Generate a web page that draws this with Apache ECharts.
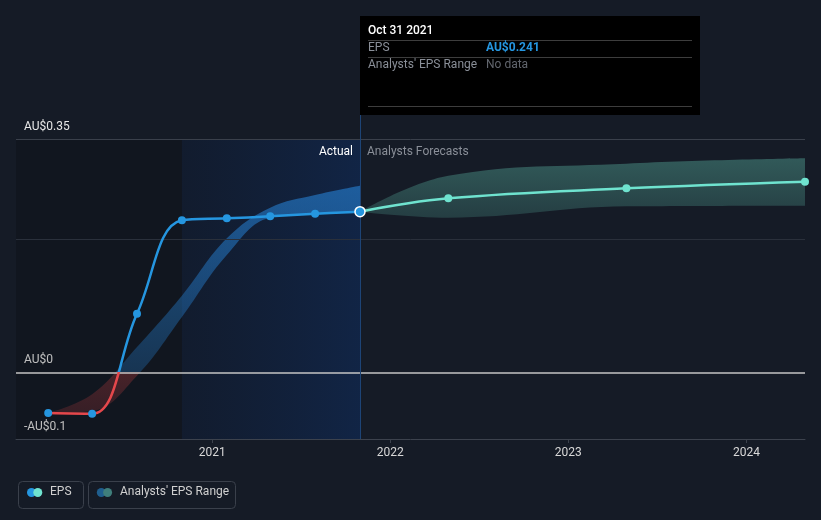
<!DOCTYPE html>
<html><head><meta charset="utf-8">
<script src="https://cdn.jsdelivr.net/npm/echarts@6/dist/echarts.min.js"></script>
<style>html,body{margin:0;padding:0;background:#151b26;}#c{width:821px;height:520px;}</style>
</head><body><div id="c"></div>
<script>
// ---- data ----
const actualDates = ['2020-01-31','2020-04-30','2020-07-31','2020-10-31','2021-01-31','2021-04-30','2021-07-31','2021-10-31'];
const actualEps = [-0.061, -0.062, 0.088, 0.228, 0.231, 0.234, 0.238, 0.241];
const pastRangeLow = [-0.061, -0.058, -0.005, 0.083, 0.176, 0.232, 0.237, 0.241];
const pastRangeHigh = [-0.061, -0.033, 0.038, 0.115, 0.201, 0.247, 0.266, 0.280];
const forecastDates = ['2021-10-31','2022-04-30','2023-04-30','2024-04-30'];
const forecastEps = [0.241, 0.261, 0.276, 0.286];
const forecastLow = [0.241, 0.232, 0.249, 0.250];
const forecastHigh = [0.241, 0.295, 0.313, 0.321];
const xMin = '2019-11-26';
const xMax = '2024-04-30';
const lastYearStart = '2020-10-31';
const todayDate = '2021-10-31';
const xTickYears = ['2021-01-01','2022-01-01','2023-01-01','2024-01-01'];
const xTickLabels = ['2021','2022','2023','2024'];
const yTicks = [-0.1, 0, 0.35];
const yTickLabels = ['-AU$0.1', 'AU$0', 'AU$0.35'];
const yGrid = [0.35, 0.2];
const tooltipDate = 'Oct 31 2021';

// ---- chart ----
const BLUE = '#2596e0', RED = '#e5474b', TEAL = '#6fe3cf';
const FONT = 'Roboto, "Noto Sans", sans-serif';
const chart = echarts.init(document.getElementById('c'));
const T = d => +echarts.time.parse(d);
const pair = (d, v) => d.map((x, i) => [T(x), v[i]]);
// band rows are [value, time] so that stacking happens on the value (y) dimension
const rev = (d, v) => d.map((x, i) => [v[i], T(x)]);
const pastDiff = pastRangeHigh.map((h, i) => +(h - pastRangeLow[i]).toFixed(4));
const fcDiff = forecastHigh.map((h, i) => +(h - forecastLow[i]).toFixed(4));
const xTickValues = xTickYears.map(T);

const actualData = pair(actualDates, actualEps).map((p, i, arr) => i === arr.length - 1
  ? { value: p, symbolSize: 10, itemStyle: { color: BLUE, borderColor: '#ffffff', borderWidth: 1.5 } }
  : p);
const fcData = pair(forecastDates, forecastEps).map((p, i) => i === 0 ? { value: p, symbol: 'none' } : p);

const bandBase = { type: 'line', encode: { x: 1, y: 0 }, smooth: 0.4, symbol: 'none',
  lineStyle: { opacity: 0, width: 0 }, silent: true, z: 2, stackStrategy: 'all' };

const option = {
  backgroundColor: '#151b26',
  animation: false,
  textStyle: { fontFamily: FONT },
  grid: { left: 16, right: 16, top: 139, bottom: 81 },
  xAxis: {
    type: 'value', min: T(xMin), max: T(xMax), scale: true,
    axisLine: { onZero: false, lineStyle: { color: '#3c424d', width: 1 } },
    axisTick: { show: true, length: 4, lineStyle: { color: '#3c424d' }, customValues: xTickValues },
    axisLabel: { color: '#d8d8d8', fontSize: 12, margin: 8, customValues: xTickValues,
      formatter: v => { const i = xTickValues.indexOf(v); return i >= 0 ? xTickLabels[i] : ''; } },
    splitLine: { show: false }
  },
  yAxis: {
    type: 'value', min: -0.1, max: 0.35, interval: 0.05,
    axisLine: { show: false }, axisTick: { show: false }, splitLine: { show: false },
    axisLabel: {
      inside: true, customValues: yTicks, color: '#e8e8e8', fontSize: 12, margin: 8,
      verticalAlign: 'bottom', lineHeight: 14, padding: [0, 0, 5, 0],
      formatter: v => { const i = yTicks.findIndex(t => Math.abs(t - v) < 1e-9); return i >= 0 ? yTickLabels[i] : ''; }
    }
  },
  series: [
    { id: 'areas', type: 'line', data: pair(actualDates, actualEps), symbol: 'none', lineStyle: { opacity: 0 }, silent: true, z: 1,
      markArea: { silent: true, data: [
        [{ xAxis: T(xMin), itemStyle: { color: 'rgba(0,0,0,0.18)' } }, { xAxis: T(lastYearStart) }],
        [{ name: 'Actual', xAxis: T(lastYearStart),
           itemStyle: { color: new echarts.graphic.LinearGradient(0, 0, 1, 0, [
             { offset: 0, color: 'rgba(8,30,70,0.25)' }, { offset: 1, color: 'rgba(10,55,130,0.34)' }]) },
           label: { show: true, position: 'insideTopRight', distance: 7, color: '#ffffff', fontSize: 12, fontFamily: FONT } },
         { xAxis: T(todayDate) }],
        [{ name: 'Analysts Forecasts', xAxis: T(todayDate), itemStyle: { color: 'rgba(0,0,0,0)' },
           label: { show: true, position: 'insideTopLeft', distance: 7, color: '#8a8f98', fontSize: 12, fontFamily: FONT } },
         { xAxis: T(xMax) }]
      ] } },
    Object.assign({}, bandBase, { id: 'pastLow', data: rev(actualDates, pastRangeLow), stack: 'past' }),
    Object.assign({}, bandBase, { id: 'pastDiff', data: rev(actualDates, pastDiff), stack: 'past',
      areaStyle: { opacity: 1, color: 'rgba(40,140,230,0.45)' } }),
    Object.assign({}, bandBase, { id: 'fcLow', data: rev(forecastDates, forecastLow), stack: 'fc' }),
    Object.assign({}, bandBase, { id: 'fcDiff', data: rev(forecastDates, fcDiff), stack: 'fc',
      areaStyle: { opacity: 1, color: new echarts.graphic.LinearGradient(0, 0, 0, 1, [
        { offset: 0, color: 'rgba(92,184,166,0.40)' }, { offset: 1, color: 'rgba(92,184,166,0.22)' }]) } }),
    { id: 'lines', type: 'line', data: pair(actualDates, actualEps), symbol: 'none', lineStyle: { opacity: 0 }, silent: true, z: 3,
      markLine: { silent: true, symbol: 'none', label: { show: false }, data: [
        { yAxis: yGrid[0], lineStyle: { color: '#3a404b', width: 1, type: 'solid' } },
        { yAxis: yGrid[1], lineStyle: { color: '#2a303b', width: 1, type: 'solid' } },
        { yAxis: 0, lineStyle: { color: '#c4c4c4', width: 1.5, type: 'solid' } },
        { xAxis: T(todayDate), lineStyle: { color: '#1d4476', width: 1, type: 'solid' } }
      ] } },
    { id: 'forecast', name: 'EPS forecast', type: 'line', data: fcData, smooth: 0.4, symbol: 'circle', symbolSize: 8,
      itemStyle: { color: TEAL }, lineStyle: { color: TEAL, width: 2.5 }, z: 4 },
    { id: 'actual', name: 'EPS', type: 'line', data: actualData, smooth: 0.4, symbol: 'circle', symbolSize: 8,
      itemStyle: { color: BLUE }, lineStyle: { color: BLUE, width: 2.5 }, z: 5 }
  ],
  graphic: [
    { type: 'rect', left: 360, top: 16, shape: { width: 340, height: 99 }, style: { fill: '#000000' }, z: 100 },
    { type: 'text', left: 368, top: 25, style: { text: tooltipDate, fill: '#ffffff', font: '500 12px ' + FONT }, z: 101 },
    { type: 'line', shape: { x1: 368, y1: 40.5, x2: 692, y2: 40.5 }, style: { stroke: '#3d3d3d', lineWidth: 1 }, z: 101 },
    { type: 'text', left: 368, top: 42, style: { text: 'EPS', fill: '#8a8f98', font: '12px ' + FONT }, z: 101 },
    { type: 'text', left: 486, top: 42, style: { text: 'AU$' + actualEps[actualEps.length - 1], fill: BLUE, font: 'bold 12px ' + FONT }, z: 101 },
    { type: 'line', shape: { x1: 368, y1: 57.5, x2: 692, y2: 57.5 }, style: { stroke: '#3d3d3d', lineWidth: 1 }, z: 101 },
    { type: 'text', left: 368, top: 59, style: { text: "Analysts' EPS Range", fill: '#8a8f98', font: '12px ' + FONT }, z: 101 },
    { type: 'text', left: 486, top: 59, style: { text: 'No data', fill: '#62666e', font: '12px ' + FONT }, z: 101 },
    { type: 'line', shape: { x1: 368, y1: 106.5, x2: 692, y2: 106.5 }, style: { stroke: '#3d3d3d', lineWidth: 1 }, z: 101 },
    { type: 'line', shape: { x1: 360.5, y1: 115, x2: 360.5, y2: 139 }, style: { stroke: '#1d4476', lineWidth: 1 }, z: 101 },
    { type: 'rect', left: 16, top: 479, shape: { x: 0.5, y: 0.5, width: 65, height: 27, r: 4 }, style: { fill: 'none', stroke: '#3a404b', lineWidth: 1 }, z: 100 },
    { type: 'circle', shape: { cx: 31.5, cy: 492.5, r: 4.5 }, style: { fill: BLUE }, z: 101 },
    { type: 'circle', shape: { cx: 37.8, cy: 492.5, r: 4.5 }, style: { fill: TEAL }, z: 102 },
    { type: 'text', left: 50, top: 486, style: { text: 'EPS', fill: '#d0d0d0', font: '12px ' + FONT }, z: 101 },
    { type: 'rect', left: 86, top: 479, shape: { x: 0.5, y: 0.5, width: 147, height: 27, r: 4 }, style: { fill: 'none', stroke: '#3a404b', lineWidth: 1 }, z: 100 },
    { type: 'circle', shape: { cx: 101.3, cy: 492.5, r: 4.5 }, style: { fill: '#1f5e8e' }, z: 101 },
    { type: 'circle', shape: { cx: 107.6, cy: 492.5, r: 4.5 }, style: { fill: '#3f7e7b' }, z: 102 },
    { type: 'text', left: 120, top: 486, style: { text: "Analysts' EPS Range", fill: '#d0d0d0', font: '12px ' + FONT }, z: 101 }
  ]
};
chart.setOption(option);

const yTop = chart.convertToPixel({ yAxisIndex: 0 }, 0.35);
const yZero = chart.convertToPixel({ yAxisIndex: 0 }, 0);
const yBot = chart.convertToPixel({ yAxisIndex: 0 }, -0.1);
const f = (yZero - yTop) / (yBot - yTop);
chart.setOption({ series: [
  { id: 'actual', lineStyle: { color: new echarts.graphic.LinearGradient(0, yTop, 0, yBot, [
      { offset: 0, color: BLUE }, { offset: f, color: BLUE }, { offset: f, color: RED }, { offset: 1, color: RED }], true) } },
  { id: 'pastDiff', areaStyle: { opacity: 1, color: new echarts.graphic.LinearGradient(0, yTop, 0, yBot, [
      { offset: 0, color: 'rgba(40,140,230,0.62)' }, { offset: f, color: 'rgba(40,140,230,0.26)' },
      { offset: f, color: 'rgba(230,70,70,0.26)' }, { offset: 1, color: 'rgba(230,70,70,0.12)' }], true) } }
] });
</script>
</body></html>
